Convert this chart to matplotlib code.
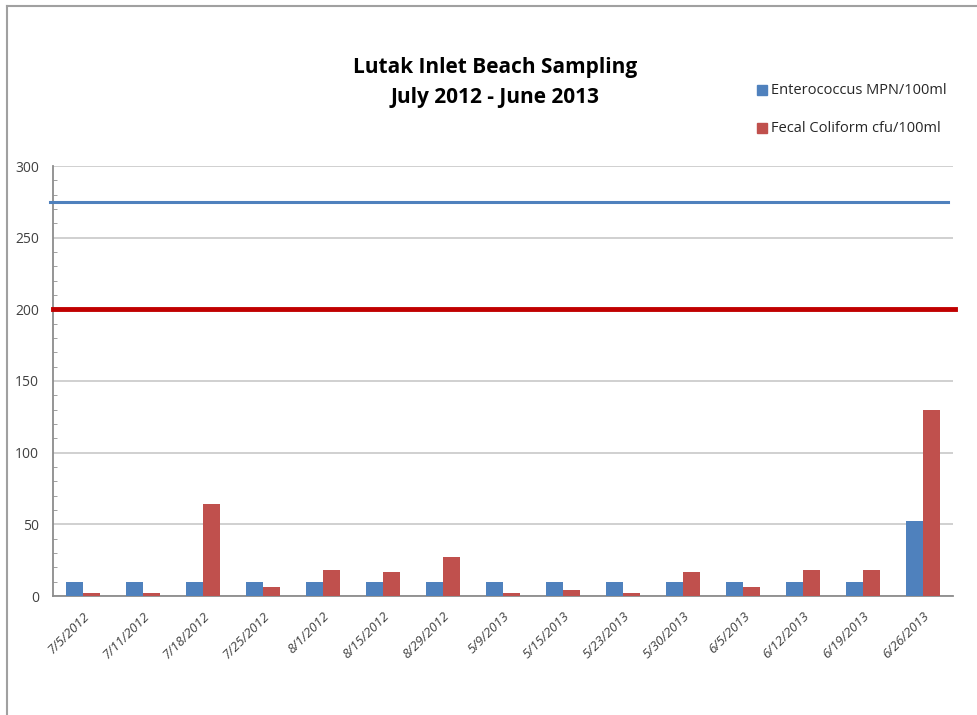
import matplotlib
matplotlib.use("Agg")
import matplotlib.pyplot as plt
import numpy as np
from matplotlib.patches import Rectangle

dates = ["7/5/2012", "7/11/2012", "7/18/2012", "7/25/2012", "8/1/2012", "8/15/2012",
         "8/29/2012", "5/9/2013", "5/15/2013", "5/23/2013", "5/30/2013", "6/5/2013",
         "6/12/2013", "6/19/2013", "6/26/2013"]
entero = [10, 10, 10, 10, 10, 10, 10, 10, 10, 10, 10, 10, 10, 10, 52]
fecal = [2, 2, 64, 6, 18, 17, 27, 2, 4, 2, 17, 6, 18, 18, 130]
entero_limit = 275
fecal_limit = 200

blue = "#4f81bd"
red = "#c0504d"
plt.rcParams['font.family'] = ['Open Sans', 'DejaVu Sans']

W, H = 978, 715
fig = plt.figure(figsize=(W / 100, H / 100), dpi=100)
ax = fig.add_axes([53 / W, 1 - 596 / H, 900 / W, 430 / H])

x = np.arange(len(dates))
bw = 0.283
ax.bar(x - bw / 2, entero, width=bw, color=blue, zorder=3)
ax.bar(x + bw / 2, fecal, width=bw, color=red, zorder=3)

ax.set_xlim(-0.5, len(dates) - 0.5)
ax.set_ylim(0, 300)
ax.axhline(entero_limit, xmin=-0.003, xmax=0.994, color=blue, lw=2.2, zorder=4, clip_on=False)
ax.axhline(fecal_limit, xmin=0, xmax=1.002, color="#c00000", lw=3.5, zorder=4, clip_on=False)

ax.set_yticks(np.arange(0, 301, 50))
ax.set_yticks(np.arange(0, 301, 10), minor=True)
ax.yaxis.grid(True, which='major', color="#c8c8c8", lw=1.2, zorder=0)
ax.tick_params(axis='y', which='major', length=0, labelsize=10, labelcolor="#404040", pad=10)
ax.tick_params(axis='y', which='minor', direction='in', length=3, color="#909090")
ax.set_xticks(x)
ax.set_xticklabels(dates, rotation=45, ha='right', rotation_mode='anchor', fontsize=9.5,
                   color="#404040", style='italic')
ax.tick_params(axis='x', length=0, pad=10)
for s in ['top', 'right']:
    ax.spines[s].set_visible(False)
for s in ['left', 'bottom']:
    ax.spines[s].set_color("#8c8c8c")
    ax.spines[s].set_linewidth(1.3)

fig.text(495 / W, 1 - 67 / H, "Lutak Inlet Beach Sampling", ha='center', va='center',
         fontsize=15, fontweight='bold', color="black")
fig.text(495 / W, 1 - 98 / H, "July 2012 - June 2013", ha='center', va='center',
         fontsize=15, fontweight='bold', color="black")

# legend
for yy, col, lab in [(90, blue, "Enterococcus MPN/100ml"), (128, red, "Fecal Coliform cfu/100ml")]:
    fig.patches.append(Rectangle((757 / W, 1 - (yy + 5) / H), 10 / W, 10 / H,
                                 transform=fig.transFigure, color=col, figure=fig))
    fig.text(771 / W, 1 - yy / H, lab, ha='left', va='center', fontsize=10.5, color="#262626")

# outer frame
fig.add_artist(plt.Line2D([7 / W, 7 / W], [0, 1 - 6 / H], color="#a0a0a0", lw=1.5,
                          transform=fig.transFigure))
fig.add_artist(plt.Line2D([7 / W, 1], [1 - 6 / H, 1 - 6 / H], color="#a0a0a0", lw=1.5,
                          transform=fig.transFigure))

fig.savefig("out.png", dpi=100)
